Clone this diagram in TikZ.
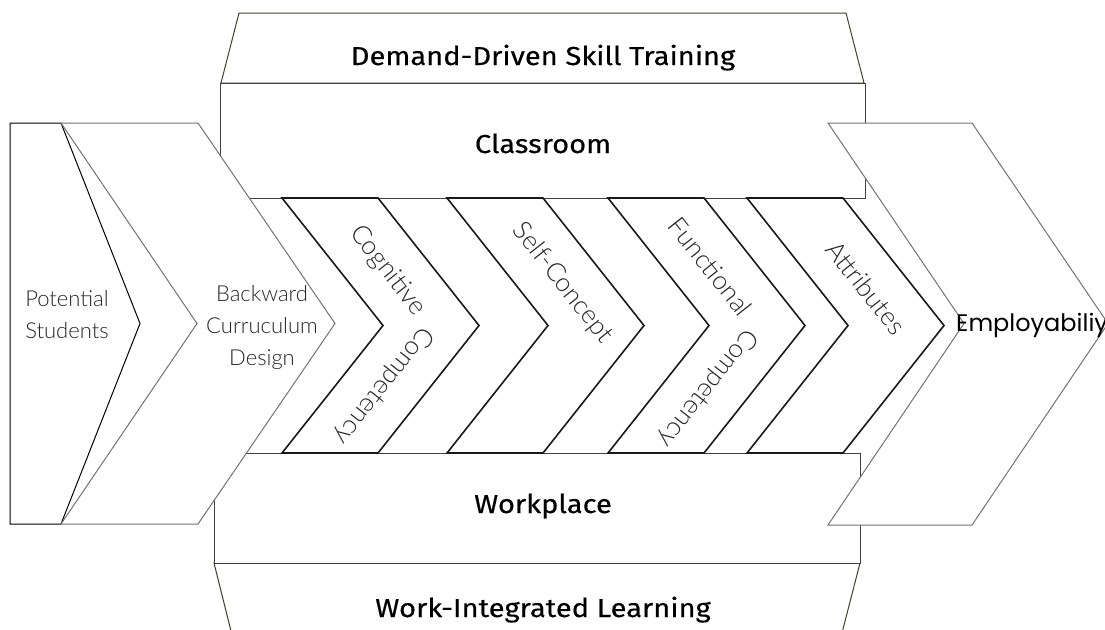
\documentclass[tikz,border=0pt]{standalone}
\usepackage{fontspec}
\setmainfont{Fira Sans}[FakeStretch=1.12, FakeBold=0.4]
\newfontfamily\lightfont{Lato Light}
\newfontfamily\empfont{Poppins}
\begin{document}
\begin{tikzpicture}[x=1pt,y=-1pt,
  boxband/.style={draw=black!75, line width=1pt, fill=white},
  trap/.style={draw=black!70!olive, line width=1pt, fill=white},
  arrowshape/.style={draw=black!55, line width=1pt, fill=white, line join=miter},
  studshape/.style={draw=black, line width=1pt, fill=white, line join=miter},
  chev/.style={draw=black!90, line width=1.6pt, fill=white, line join=miter},
  title/.style={font=\fontsize{26}{30}\selectfont, text=black, anchor=base},
  thintext/.style={font=\lightfont\fontsize{22}{32}\selectfont, text=black!85, align=center},
  chevtext/.style={font=\lightfont\fontsize{26}{30}\selectfont, text=black!85, inner sep=0pt},
  emptext/.style={font=\empfont\fontsize{24}{28}\selectfont, text=black, anchor=base west, inner sep=0pt},
  ]
\useasboundingbox (0,0) rectangle (1105,629);
% top band
\draw[trap] (221,83) -- (239,13) -- (846,13) -- (864,83) -- cycle;
\draw[boxband] (220,83) rectangle (865,198);
% bottom band
\draw[trap] (214,563) -- (231,631) -- (232,640) -- (841,640) -- (843,629) -- (860,563) -- cycle;
\draw[boxband] (214,453) rectangle (860,563);
% chevrons
\foreach \L in {282,447,608,747}{
  \draw[chev] (\L,198) -- ({\L+96},198) -- ({\L+197},325.5) -- ({\L+96},453) -- (\L,453) -- ({\L+101},325.5) -- cycle;
}
% left shapes
\draw[studshape] (10,123) -- (61,123) -- (140,323.5) -- (61,524) -- (10,524) -- cycle;
\draw[arrowshape] (61,123) -- (198,123) -- (335,323.5) -- (198,524) -- (61,524) -- (197,323.5) -- cycle;
% right shape
\draw[arrowshape] (828,123) -- (972,123) -- (1108,323.5) -- (972,525) -- (828,525) -- (964,323.5) -- cycle;

% titles
\node[title] (dd) at (543,65) {Demand-Driven Skill Training};
\node[title] (cl) at (543,153) {Classroom};
\node[title] (wp) at (543,513) {Workplace};
\node[title] (wil) at (543,617) {Work-Integrated Learning};

\node[thintext, align=left] (ps) at (67,315) {Potential\\Students};
\node[thintext] (bcd) at (262,328) {Backward\\Curruculum\\Design};
\node[emptext] (emp) at (956,331) {Employabiliy};

% chevron centre lines
\coordinate (c1t) at (330,198); \coordinate (c1m) at (431,325.5); \coordinate (c1b) at (330,453);
\coordinate (c2t) at (495,198); \coordinate (c2m) at (596,325.5);
\coordinate (c3t) at (656,198); \coordinate (c3m) at (757,325.5); \coordinate (c3b) at (656,453);
\coordinate (c4t) at (795,198); \coordinate (c4m) at (896,325.5);

\path (c1t) -- (c1m) node[chevtext, pos=0.57, sloped] (cog1) {Cognitive};
\path (c1m) -- (c1b) node[chevtext, pos=0.47, sloped, allow upside down] (cog2) {Competency};
\path (c2t) -- (c2m) node[chevtext, pos=0.667, sloped] (self) {Self-Concept};
\path (c3t) -- (c3m) node[chevtext, pos=0.54, sloped] (fun1) {Functional};
\path (c3m) -- (c3b) node[chevtext, pos=0.49, sloped, allow upside down] (fun2) {Competency};
\path (c4t) -- (c4m) node[chevtext, pos=0.706, sloped] (attr) {Attributes};
\end{tikzpicture}
\end{document}
